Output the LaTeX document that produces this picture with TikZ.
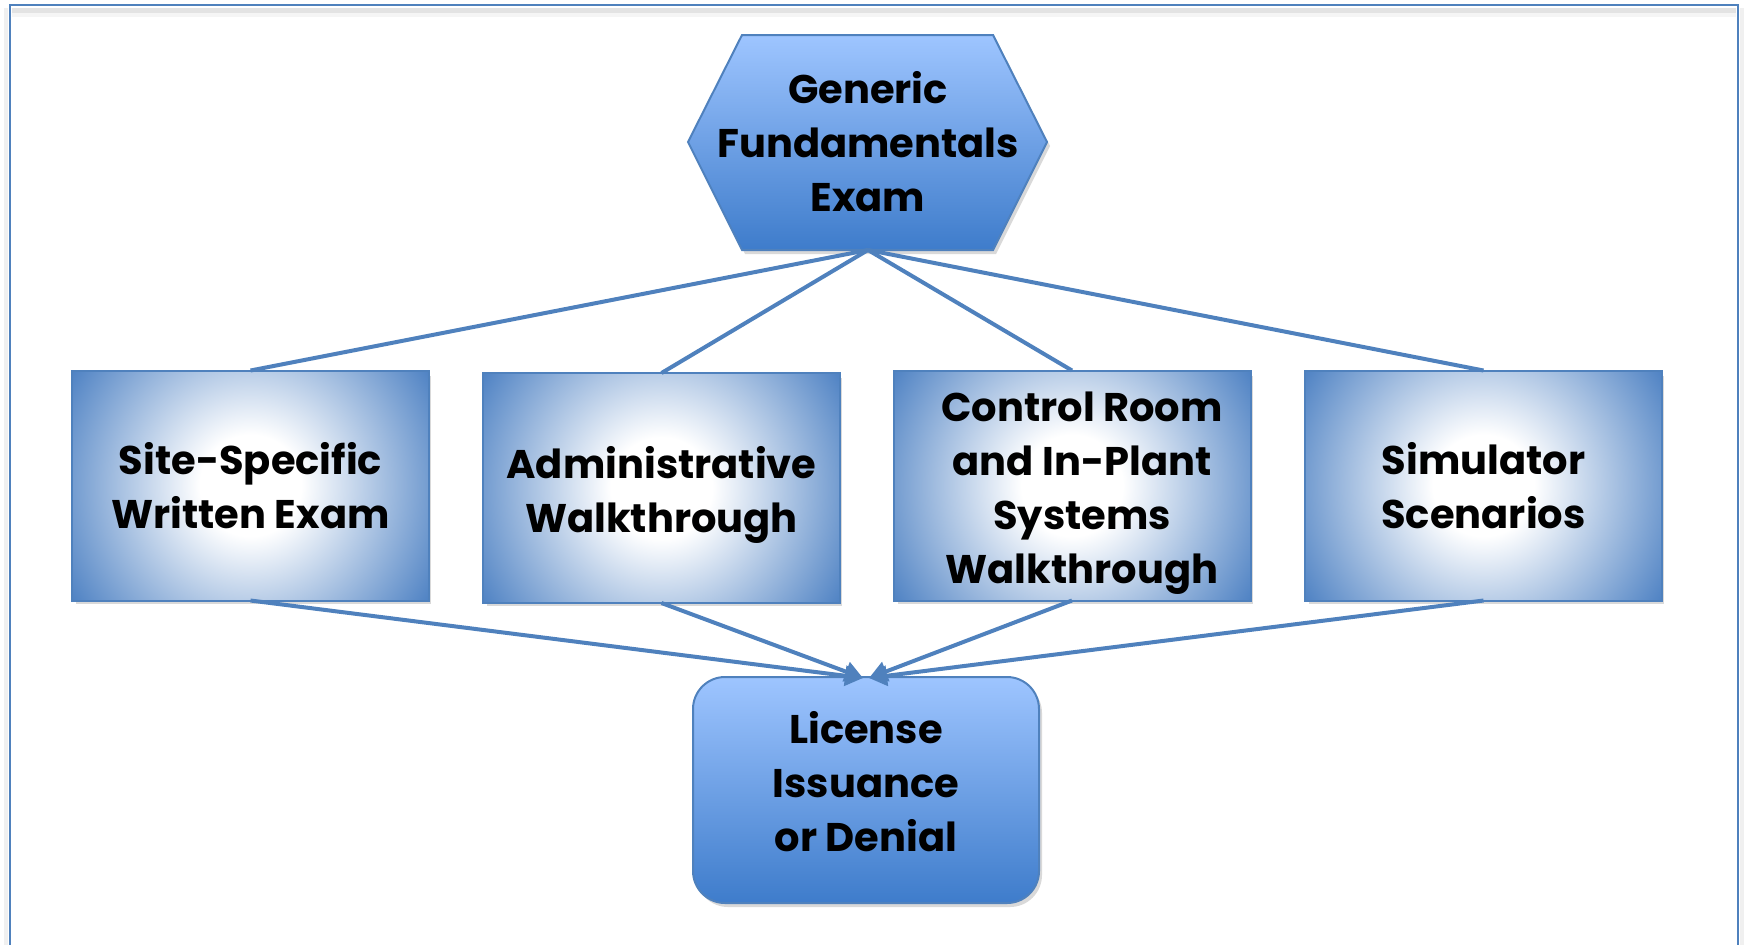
\documentclass[tikz,border=0pt]{standalone}
\usepackage{fontspec}
\setmainfont{Poppins}
\usetikzlibrary{arrows.meta,shadows,calc}
\definecolor{lineblue}{RGB}{79,129,189}
\definecolor{hextop}{RGB}{158,197,255}
\definecolor{hexbot}{RGB}{62,124,203}
\definecolor{boxblue}{RGB}{80,131,196}
\pgfdeclareradialshading{boxshade}{\pgfpointorigin}{color(0bp)=(white); color(6bp)=(white); color(25bp)=(boxblue); color(50bp)=(boxblue)}
\tikzset{
  lbl/.style={font=\bfseries\fontsize{20pt}{27pt}\selectfont, align=center, text=black},
  midbox/.style={draw=lineblue, line width=1pt, fill=white, minimum width=177.5pt, minimum height=114pt, inner sep=0pt, drop shadow={shadow xshift=1.5pt, shadow yshift=-2pt, opacity=0.25, fill=black!60}},
  endbox/.style={draw=lineblue, line width=1pt, top color=hextop, bottom color=hexbot, rounded corners=16pt, minimum width=173pt, minimum height=113pt, inner sep=0pt, drop shadow={shadow xshift=1.5pt, shadow yshift=-2pt, opacity=0.25, fill=black!60}},
  conn/.style={draw=lineblue, line width=2pt},
  arr/.style={conn, -{Triangle[length=9pt,width=10pt]}}
}
\newcommand{\mkshade}[1]{%
  \begin{scope}
    \clip (#1.south west) rectangle (#1.north east);
    \shade[shading=boxshade] (#1.center) circle (211);
  \end{scope}
  \draw[lineblue, line width=1pt] (#1.south west) rectangle (#1.north east);
}
\begin{document}
\begin{tikzpicture}[x=0.5pt,y=-0.5pt]
\useasboundingbox (0,0) rectangle (1744,944);
\clip (0,0) rectangle (1744,944);
% outer frame
\fill[black!11] (12,8) rectangle (1736,13);
\fill[black!4] (12,13) rectangle (1736,17);
\fill[black!6] (4,8) rectangle (8,960);
\fill[black!6] (1740,8) rectangle (1744,960);
\draw[lineblue, line width=1.2pt] (10,960) -- (10,5) -- (1738,5) -- (1738,960);
% hexagon
\path[draw=lineblue, line width=1pt, top color=hextop, bottom color=hexbot,
  drop shadow={shadow xshift=1.5pt, shadow yshift=-2pt, opacity=0.25, fill=black!60}]
  (742,35) -- (993,35) -- (1047,142) -- (993,250) -- (742,250) -- (688,142) -- cycle;
\node[lbl] (hex) at (868,142) {Generic\\Fundamentals\\Exam};
\coordinate (hexb) at (868,250);
% middle boxes
\node[midbox] (b1) at (250.5,485.5) {};
\mkshade{b1}
\node[lbl] at (b1.center) {Site-Specific\\Written Exam};
\node[midbox] (b2) at (661.5,488) {};
\mkshade{b2}
\node[lbl] at ($(b2.center)+(0,7)$) {Administrative\\Walkthrough};
\node[midbox] (b3) at (1072,485.5) {};
\mkshade{b3}
\node[lbl] at ($(b3.center)+(10,8)$) {Control Room\\and In-Plant\\Systems\\Walkthrough};
\node[midbox] (b4) at (1483.5,485.5) {};
\mkshade{b4}
\node[lbl] at (b4.center) {Simulator\\Scenarios};
% end box
\node[endbox] (lic) at (866,790) {};
\node[lbl] at ($(lic.center)+(0,-8)$) {License\\Issuance\\or Denial};
\coordinate (licl) at (863,678);
\coordinate (licr) at (869,678);
% connectors
\draw[conn] (hexb) -- (b1.north);
\draw[conn] (hexb) -- (b2.north);
\draw[conn] (hexb) -- (b3.north);
\draw[conn] (hexb) -- (b4.north);
\draw[arr] (b1.south) -- (licl);
\draw[arr] (b2.south) -- (licl);
\draw[arr] (b3.south) -- (licr);
\draw[arr] (b4.south) -- (licr);
\end{tikzpicture}
\end{document}
